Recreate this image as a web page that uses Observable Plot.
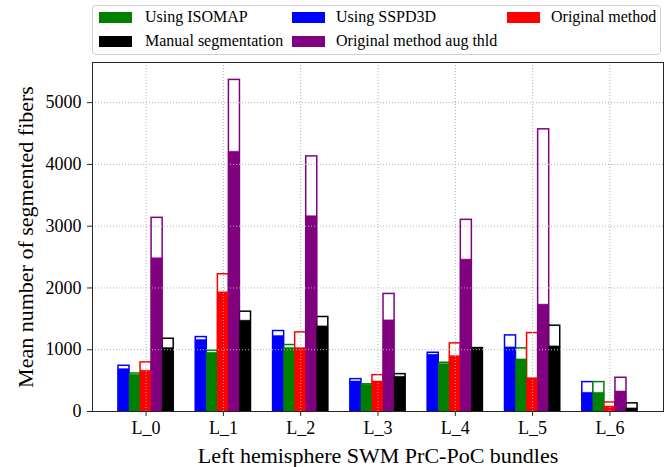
<!DOCTYPE html>
<html>
<head>
<meta charset="utf-8">
<script src="https://cdn.jsdelivr.net/npm/d3@7"></script>
<script src="https://cdn.jsdelivr.net/npm/@observablehq/plot@0.6"></script>
<style>
  html, body { margin: 0; padding: 0; background: #fff; }
  #wrap { position: relative; width: 667px; height: 467px; font-family: "Liberation Serif", "Times New Roman", serif; }
  #legend { position: absolute; left: 92px; top: 5px; width: 569px; height: 50px; border: 1px solid #d0d0d0; border-radius: 4px; background: rgba(255,255,255,0.85); box-sizing: border-box; }
  .li { position: absolute; font-size: 16px; line-height: 16px; white-space: nowrap; color: #000; }
  .sw { position: absolute; width: 33px; height: 11px; }
</style>
</head>
<body>
<div id="wrap">
  <div id="chart"></div>
  <div id="legend"></div>
</div>
<script>
// ---- Data ----
const categories = ["L_0", "L_1", "L_2", "L_3", "L_4", "L_5", "L_6"];
const seriesNames = ["Using SSPD3D", "Using ISOMAP", "Original method", "Original method aug thld", "Manual segmentation"];
const seriesColors = ["#0000ff", "#008000", "#ff0000", "#800080", "#000000"];

// filled (lower) value and outlined total value per bundle
const sspd3dFilled   = [686, 1157, 1222, 486, 919, 1038, 303];
const sspd3dTotal    = [740, 1205, 1303, 524, 951, 1232, 476];
const isomapFilled   = [595, 951, 1027, 432, 768, 843, 303];
const isomapTotal    = [616, 984, 1076, 440, 789, 1022, 476];
const originalFilled = [660, 1930, 1027, 486, 897, 541, 80];
const originalTotal  = [795, 2222, 1281, 589, 1103, 1270, 146];
const augFilled      = [2481, 4205, 3162, 1476, 2459, 1730, 324];
const augTotal       = [3135, 5368, 4130, 1903, 3103, 4568, 546];
const manualFilled   = [1027, 1470, 1378, 562, 1016, 1054, 50];
const manualTotal    = [1178, 1616, 1530, 605, 1027, 1389, 132];

const yTicks = [0, 1000, 2000, 3000, 4000, 5000];
const yLabel = "Mean number of segmented fibers";
const xLabel = "Left hemisphere SWM PrC-PoC bundles";

// legend layout order (matplotlib column-major)
const legendOrder = [
  ["Using ISOMAP", "Manual segmentation"],
  ["Using SSPD3D", "Original method aug thld"],
  ["Original method"]
];

const filledArrays = [sspd3dFilled, isomapFilled, originalFilled, augFilled, manualFilled];
const totalArrays  = [sspd3dTotal, isomapTotal, originalTotal, augTotal, manualTotal];

const barW = 1 / 7;
const rows = [];
seriesNames.forEach((s, j) => {
  categories.forEach((c, i) => {
    rows.push({series: s, color: seriesColors[j], i, j, filled: filledArrays[j][i], total: totalArrays[j][i]});
  });
});

const x1 = d => d.i + (d.j - 2.5) * barW;
const x2 = d => d.i + (d.j - 1.5) * barW;

const gridStyle = {stroke: "#b0b0b0", strokeWidth: 1, strokeDasharray: "1,2"};
const ff = "'Liberation Serif', 'Times New Roman', serif";

const chart = Plot.plot({
  width: 667,
  height: 467,
  marginTop: 62,
  marginBottom: 56,
  marginLeft: 92,
  marginRight: 4,
  style: {fontFamily: ff, fontSize: "18px", color: "#000", background: "transparent"},
  x: {type: "linear", domain: [-0.693, 6.693]},
  y: {domain: [0, 5650]},
  marks: [
    Plot.rect(rows, {x1, x2, y1: 0, y2: "total", fill: "white", stroke: "color", strokeWidth: 1.5}),
    Plot.rect(rows, {x1, x2, y1: 0, y2: "filled", fill: "color", stroke: "color", strokeOpacity: 0.45, strokeWidth: 1}),
    Plot.ruleY(yTicks.filter(t => t > 0), gridStyle),
    Plot.ruleX(d3.range(categories.length), gridStyle),
    Plot.frame({stroke: "#262626", strokeWidth: 1}),
    Plot.axisY({ticks: yTicks, tickFormat: d => String(d), tickSize: 5, tickPadding: 6, fontSize: 18, label: null, stroke: "#262626"}),
    Plot.axisX({ticks: d3.range(categories.length), tickFormat: i => categories[i], tickSize: 5, tickPadding: 5, fontSize: 18, label: null, stroke: "#262626"}),
    Plot.text([yLabel], {frameAnchor: "left", dx: -67, rotate: -90, textAnchor: "middle", lineAnchor: "middle", fontSize: 22, text: d => d, fill: "#000"}),
    Plot.text([xLabel], {frameAnchor: "bottom", dy: 44, textAnchor: "middle", lineAnchor: "middle", fontSize: 22, text: d => d, fill: "#000"})
  ]
});
document.getElementById("chart").appendChild(chart);

// ---- Legend (HTML, built from the series arrays) ----
const legend = document.getElementById("legend");
const colSwatchX = [6, 199, 414];
const colTextX = [52, 243, 458];
const rowY = [12, 36];
legendOrder.forEach((col, ci) => {
  col.forEach((name, ri) => {
    const color = seriesColors[seriesNames.indexOf(name)];
    const sw = document.createElement("div");
    sw.className = "sw";
    sw.style.left = colSwatchX[ci] + "px";
    sw.style.top = (rowY[ri] - 6) + "px";
    sw.style.background = color;
    legend.appendChild(sw);
    const t = document.createElement("div");
    t.className = "li";
    t.style.left = colTextX[ci] + "px";
    t.style.top = (rowY[ri] - 9) + "px";
    t.textContent = name;
    legend.appendChild(t);
  });
});
</script>
</body>
</html>
